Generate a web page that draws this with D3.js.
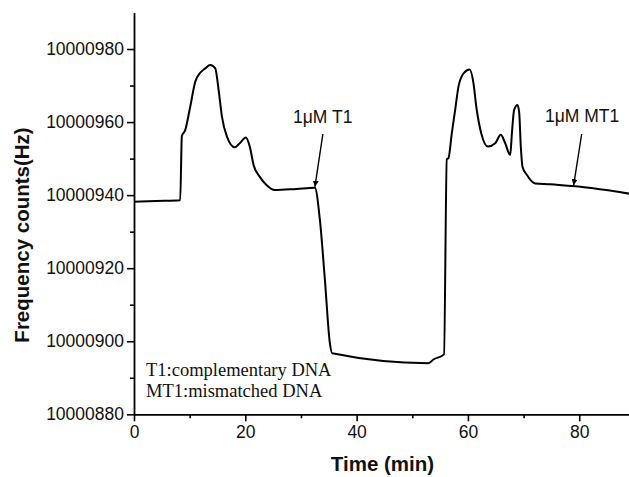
<!DOCTYPE html>
<html>
<head>
<meta charset="utf-8">
<script src="https://cdn.jsdelivr.net/npm/d3@7"></script>
<style>
  html, body { margin: 0; padding: 0; background: #fff; }
  svg { display: block; }
</style>
</head>
<body>
<svg id="chart" width="629" height="477"></svg>
<script>
// ---- data ----
const timeMin = [0, 4, 8.3, 8.6, 9.2, 10.1, 11.0, 11.9, 12.8, 13.7, 14.6, 15.2, 15.8, 16.7, 18.1, 19.0, 20.1, 20.8, 21.5, 22.6, 23.8, 25.3, 29.2, 32.5,
  33.4, 34.3, 35.2, 35.6, 52.9, 53.8, 55.7, 56.2, 56.5, 57.1, 57.7, 58.3, 59.2, 60.3, 61.0, 61.5, 62.4, 63.6, 64.9, 65.9, 66.7, 67.6, 67.9,
  68.3, 68.9, 69.2, 69.5, 69.8, 70.6, 72.1, 74.8, 78.7, 82.5, 89];
const frequencyHz = [10000938.2, 10000938.4, 10000938.6, 10000956.2, 10000957.8, 10000964.2, 10000971.0, 10000973.5, 10000974.7, 10000975.6,
  10000974.7, 10000968.8, 10000961.5, 10000956.0, 10000953.1, 10000954.2, 10000955.8, 10000953.3, 10000948.2, 10000945.0, 10000942.8,
  10000941.4, 10000941.7, 10000942.0, 10000933.2, 10000916.8, 10000899.4, 10000896.7, 10000894.0, 10000895.0, 10000896.4, 10000949.8,
  10000950.1, 10000956.9, 10000963.3, 10000969.7, 10000973.3, 10000974.4, 10000970.6, 10000964.2, 10000956.9, 10000953.3, 10000954.2,
  10000956.5, 10000954.2, 10000951.0, 10000956.9, 10000963.3, 10000964.7, 10000962.8, 10000953.3, 10000947.8, 10000945.5, 10000943.2,
  10000943.0, 10000942.5, 10000941.9, 10000940.4];
const xMajorTicks = [0, 20, 40, 60, 80];
const xMinorTicks = [10, 30, 50, 70, 90];
const yMajorTicks = [10000880, 10000900, 10000920, 10000940, 10000960, 10000980];
const yMinorTicks = [10000890, 10000910, 10000930, 10000950, 10000970];
const annotationLabels = ["1μM T1", "1μM MT1"];
const annotationTimes = [32.5, 79.0];      // where arrows point (min)
const legendLines = ["T1:complementary DNA", "MT1:mismatched DNA"];
const xTitle = "Time (min)";
const yTitle = "Frequency counts(Hz)";

// ---- layout ----
const svg = d3.select("#chart");
const mLeft = 134, mRight = 634.9, mTop = 12.5, mBottom = 414.3;
const x = d3.scaleLinear().domain([0, 90]).range([mLeft, mRight]);
const y = d3.scaleLinear().domain([10000880, 10000990]).range([mBottom, mTop]);
const sans = "'Liberation Sans', Arial, Helvetica, sans-serif";
const serif = "'Liberation Serif', 'Times New Roman', serif";

// ---- axes ----
const xAxis = svg.append("g").attr("transform", `translate(0,${mBottom})`)
  .call(d3.axisBottom(x).tickValues(xMajorTicks).tickSize(7).tickSizeOuter(0).tickPadding(4).tickFormat(d3.format("d")));
const xMinor = svg.append("g").attr("transform", `translate(0,${mBottom})`)
  .call(d3.axisBottom(x).tickValues(xMinorTicks).tickSize(4).tickSizeOuter(0).tickFormat(""));
const yAxis = svg.append("g").attr("transform", `translate(${mLeft},0)`)
  .call(d3.axisLeft(y).tickValues(yMajorTicks).tickSize(7).tickSizeOuter(0).tickPadding(3).tickFormat(d3.format("d")));
const yMinor = svg.append("g").attr("transform", `translate(${mLeft},0)`)
  .call(d3.axisLeft(y).tickValues(yMinorTicks).tickSize(4).tickSizeOuter(0).tickFormat(""));

[xAxis, xMinor, yAxis, yMinor].forEach(g => {
  g.selectAll("path.domain").attr("stroke", "#000").attr("stroke-width", 1.8);
  g.selectAll(".tick line").attr("stroke", "#000").attr("stroke-width", 1.6);
  g.selectAll(".tick text").attr("fill", "#111").style("font-family", sans).style("font-size", "17.5px");
});
xMinor.select("path.domain").remove();
yMinor.select("path.domain").remove();

// ---- axis titles ----
svg.append("text")
  .attr("x", 382.5).attr("y", 471)
  .attr("text-anchor", "middle")
  .style("font-family", sans).style("font-weight", "bold").style("font-size", "20.5px")
  .attr("fill", "#111")
  .text(xTitle);
svg.append("text")
  .attr("transform", `translate(29,235) rotate(-90)`)
  .attr("text-anchor", "middle")
  .style("font-family", sans).style("font-weight", "bold").style("font-size", "20.5px")
  .attr("fill", "#111")
  .text(yTitle);

// ---- data line ----
const pts = timeMin.map((t, i) => [t, frequencyHz[i]]);
const line = d3.line().x(d => x(d[0])).y(d => y(d[1])).curve(d3.curveMonotoneX);
svg.append("clipPath").attr("id", "plotclip").append("rect")
  .attr("x", mLeft).attr("y", 0).attr("width", 629 - mLeft).attr("height", mBottom);
svg.append("path")
  .datum(pts)
  .attr("clip-path", "url(#plotclip)")
  .attr("fill", "none").attr("stroke", "#000").attr("stroke-width", 2)
  .attr("stroke-linejoin", "round")
  .attr("d", line);

// ---- annotations ----
svg.append("defs").append("marker")
  .attr("id", "arrowhead").attr("viewBox", "0 0 10 10")
  .attr("refX", 10).attr("refY", 5)
  .attr("markerWidth", 6).attr("markerHeight", 6)
  .attr("markerUnits", "userSpaceOnUse")
  .attr("orient", "auto")
  .append("path").attr("d", "M0,0 L10,5 L0,10 Z").attr("fill", "#000");

function valueAt(t) {
  const i = d3.bisectLeft(timeMin, t);
  if (i <= 0) return frequencyHz[0];
  const t0 = timeMin[i - 1], t1 = timeMin[i];
  const v0 = frequencyHz[i - 1], v1 = frequencyHz[i];
  return v0 + (v1 - v0) * (t - t0) / (t1 - t0);
}
const textPos = [[293, 123], [545, 122]];
annotationLabels.forEach((lab, i) => {
  svg.append("text")
    .attr("x", textPos[i][0]).attr("y", textPos[i][1])
    .style("font-family", sans).style("font-size", "17.5px")
    .attr("fill", "#111")
    .text(lab);
  const tx = x(annotationTimes[i]);
  const ty = y(valueAt(annotationTimes[i]));
  svg.append("line")
    .attr("x1", tx + 8).attr("y1", 134)
    .attr("x2", tx).attr("y2", ty - 1)
    .attr("stroke", "#000").attr("stroke-width", 1.4)
    .attr("marker-end", "url(#arrowhead)");
});

// ---- legend text ----
legendLines.forEach((s, i) => {
  svg.append("text")
    .attr("x", 146).attr("y", 376 + i * 21)
    .style("font-family", serif).style("font-size", "18.5px")
    .attr("fill", "#111")
    .text(s);
});
</script>
</body>
</html>
